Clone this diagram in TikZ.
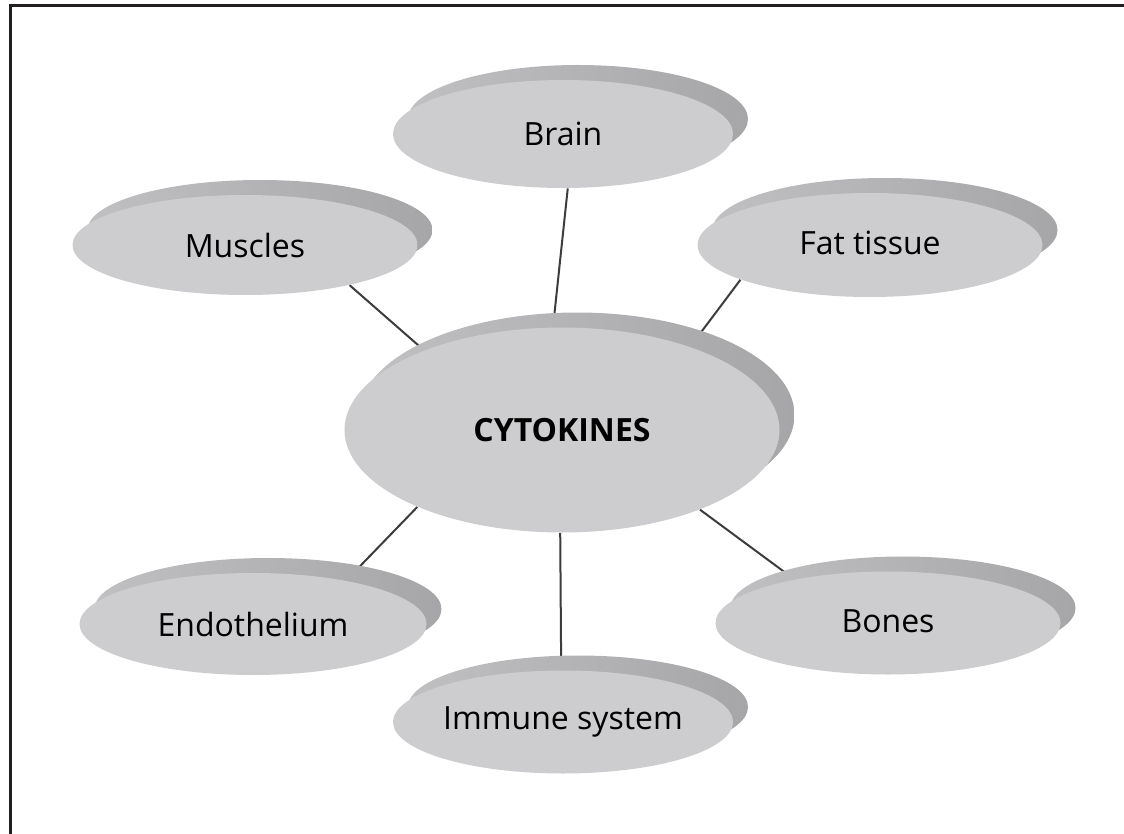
\documentclass[tikz,border=0pt]{standalone}
\usepackage{fontspec}
\setmainfont{Open Sans}
\usetikzlibrary{shapes.geometric,shadows,backgrounds}
\definecolor{faceGray}{RGB}{205,205,207}
\definecolor{rimGray}{RGB}{192,192,194}
\definecolor{deepGray}{RGB}{166,166,168}
\definecolor{lineGray}{RGB}{60,60,60}
\definecolor{frameBlack}{RGB}{35,31,32}
\tikzset{
  organ/.style={ellipse, fill=faceGray, draw=none, inner sep=0pt, align=center,
    font=\fontsize{16}{19}\selectfont,
    general shadow={shadow xshift=7.5pt, shadow yshift=7.5pt, left color=rimGray, right color=deepGray}},
  hub/.style={organ, font=\fontsize{16}{19}\selectfont\bfseries},
  link/.style={line width=1pt, color=lineGray},
  frame/.style={line width=1.6pt, color=frameBlack}
}

\begin{document}
\begin{tikzpicture}[x=0.5pt,y=-0.5pt]
  \useasboundingbox (0,0) rectangle (1124,834);

  % Frame (top and left only)
  \draw[frame] (10.5,834) -- (10.5,5.5) -- (1124,5.5);

  % Hub
  \node[hub, minimum width=217.5pt, minimum height=102.5pt] (cyto) at (562,430) {CYTOKINES};

  % Organs around the hub
  \node[organ, minimum width=170pt, minimum height=54pt] (brain) at (563,134) {Brain};
  \node[organ, minimum width=172.5pt, minimum height=50pt] (muscles) at (245,245) {Muscles};
  \node[organ, minimum width=172.5pt, minimum height=52pt] (fat) at (870,245) {\raisebox{2pt}{Fat tissue}};
  \node[organ, minimum width=173.5pt, minimum height=51pt] (endo) at (253,624) {Endothelium};
  \node[organ, minimum width=172.5pt, minimum height=51.5pt] (bones) at (888,623) {\raisebox{2pt}{Bones}};
  \node[organ, minimum width=170pt, minimum height=51.5pt] (immune) at (563,722) {Immune system};

  % Links, kept under the ellipses
  \begin{scope}[on background layer]
    \draw[link] (brain.-85) -- (cyto.95);
    \draw[link] (muscles.-21) -- (cyto.150);
    \draw[link] (fat.-165) -- (cyto.33);
    \draw[link] (endo.25) -- (cyto.-152);
    \draw[link] (immune.92) -- (cyto.-91);
    \draw[link] (bones.155) -- (cyto.-30);
  \end{scope}
\end{tikzpicture}
\end{document}
